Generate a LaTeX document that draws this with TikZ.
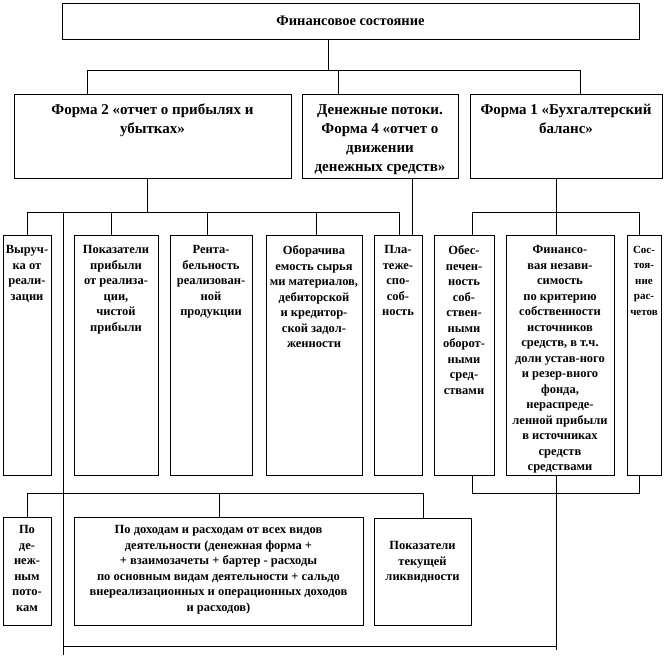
\documentclass[tikz,border=0pt]{standalone}
\usepackage{fontspec}
\setmainfont{Liberation Serif}
\begin{document}
\begin{tikzpicture}[x=1pt, y=-1pt,
    box/.style={draw, line width=0.9pt, inner sep=0pt},
    ln/.style={line width=0.9pt},
    head/.style={font=\fontsize{15}{19}\selectfont\bfseries, align=center, anchor=north, inner sep=0pt},
    lbl/.style={font=\fontsize{12.5}{15.5}\selectfont\bfseries, align=center, anchor=north, inner sep=0pt}]
    \useasboundingbox (0,0) rectangle (666,656);

    % Top box
    \node[box, minimum width=577pt, minimum height=36pt, font=\fontsize{14.5}{17}\selectfont\bfseries] (fin) at (350.5,21) {Финансовое состояние};

    % Report forms
    \node[box, minimum width=277pt, minimum height=84pt] (f2) at (152.5,136) {};
    \node[box, minimum width=156pt, minimum height=84pt] (f4) at (380,136) {};
    \node[box, minimum width=192pt, minimum height=84pt] (f1) at (566,136) {};
    \node[head] at ([yshift=-10.5pt]f2.north) {Форма 2 «отчет о прибылях и\\убытках»};
    \node[head] at ([yshift=-10.5pt]f4.north) {Денежные потоки.\\Форма 4 «отчет о\\движении\\денежных средств»};
    \node[head] at ([yshift=-10.5pt]f1.north) {Форма 1 «Бухгалтерский\\баланс»};

    % Indicators
    \node[box, minimum width=48pt, minimum height=240pt] (a) at (27,355) {};
    \node[box, minimum width=84pt, minimum height=240pt] (b) at (116,355) {};
    \node[box, minimum width=82pt, minimum height=240pt] (c) at (211,355) {};
    \node[box, minimum width=96pt, minimum height=240pt] (d) at (314,355) {};
    \node[box, minimum width=48pt, minimum height=240pt] (e) at (398,355) {};
    \node[box, minimum width=60pt, minimum height=240pt] (f) at (464,355) {};
    \node[box, minimum width=108pt, minimum height=240pt] (g) at (560,355) {};
    \node[box, minimum width=34pt, minimum height=240pt] (h) at (644,355) {};
    \node[lbl] at ([yshift=-11pt]a.north) {Выруч-\\ка от\\реали-\\зации};
    \node[lbl] at ([yshift=-11pt]b.north) {Показатели\\прибыли\\от реализа-\\ции,\\чистой\\прибыли};
    \node[lbl] at ([yshift=-11pt]c.north) {Рента-\\бельность\\реализован-\\ной\\продукции};
    \node[lbl] at ([yshift=-11pt]d.north) {Оборачива\\емость сырья\\ми материалов,\\дебиторской\\и кредитор-\\ской задол-\\женности};
    \node[lbl] at ([yshift=-11pt]e.north) {Пла-\\теже-\\спо-\\соб-\\ность};
    \node[lbl] at ([yshift=-11pt]f.north) {Обес-\\печен-\\ность\\соб-\\ствен-\\ными\\оборот-\\ными\\сред-\\ствами};
    \node[lbl] at ([yshift=-11pt]g.north) {Финансо-\\вая незави-\\симость\\по критерию\\собственности\\источников\\средств, в т.ч.\\доли устав-ного\\и резер-вного\\фонда,\\нераспреде-\\ленной прибыли\\в источниках\\средств\\средствами};
    \node[lbl, font=\fontsize{11}{15.5}\selectfont\bfseries] at ([yshift=-11pt]h.north) {Сос-\\тоя-\\ние\\рас-\\четов};

    % Lower boxes
    \node[box, minimum width=48pt, minimum height=108pt] (p) at (27,571) {};
    \node[box, minimum width=289pt, minimum height=108pt] (q) at (218.5,571) {};
    \node[box, minimum width=97pt, minimum height=107pt] (r) at (422.5,571.5) {};
    \node[lbl] at ([yshift=-9pt]p.north) {По\\де-\\неж-\\ным\\пото-\\кам};
    \node[lbl] at ([yshift=-9pt]q.north) {По доходам и расходам от всех видов\\деятельности (денежная форма +\\+ взаимозачеты + бартер - расходы\\по основным видам деятельности + сальдо\\внереализационных и операционных доходов\\и расходов)};
    \node[lbl] at ([yshift=-24pt]r.north) {Показатели\\текущей\\ликвидности};

    % Links from the top box
    \draw[ln] (fin.south -| 328,0) -- (328,70);
    \draw[ln] (f2.north -| 87,0) -- (87,70) -- (580,70) -- (f1.north -| 580,0);
    \draw[ln] (338,70) -- (f4.north -| 338,0);

    % Form 2 and form 4 links
    \draw[ln] (f2.south -| 147,0) -- (147,212);
    \draw[ln] (a.north) -- (27,212) -- (399,212) -- (e.north -| 399,0);
    \draw[ln] (111,212) -- (b.north -| 111,0);
    \draw[ln] (207,212) -- (c.north -| 207,0);
    \draw[ln] (316,212) -- (d.north -| 316,0);
    \draw[ln] (f4.south -| 412,0) -- (e.north -| 412,0);

    % Form 1 links
    \draw[ln] (f1.south -| 556,0) -- (556,212);
    \draw[ln] (f.north -| 472,0) -- (472,212) -- (639,212) -- (h.north -| 639,0);
    \draw[ln] (556,212) -- (g.north -| 556,0);
    \draw[ln] (f.south -| 472,0) -- (472,493) -- (639,493) -- (h.south -| 639,0);
    \draw[ln] (g.south -| 556,0) -- (556,650);
    \draw[ln] (556,646) -- (63,646);

    % Long line on the left
    \draw[ln] (63,212) -- (63,655);

    % Lower links
    \draw[ln] (p.north) -- (27,493) -- (423,493) -- (r.north -| 423,0);
    \draw[ln] (219,493) -- (q.north -| 219,0);
\end{tikzpicture}
\end{document}
